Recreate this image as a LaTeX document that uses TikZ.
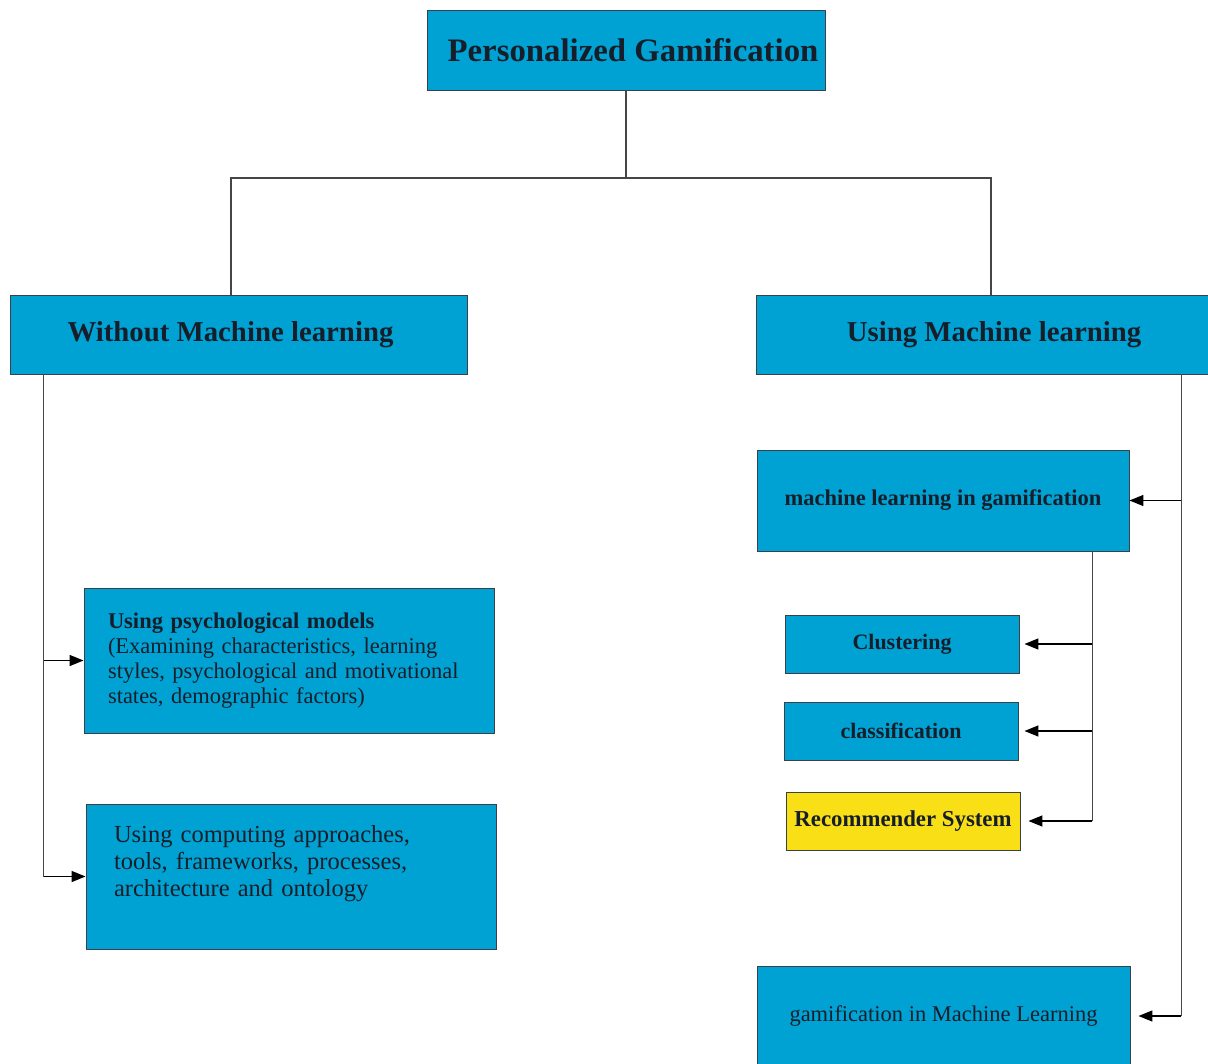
\documentclass[tikz,border=0pt]{standalone}
\usepackage{fontspec}
\setmainfont{Liberation Serif}
\usetikzlibrary{arrows.meta}

\definecolor{boxblue}{RGB}{0,162,212}
\definecolor{boxyellow}{RGB}{249,224,22}
\definecolor{inkdark}{RGB}{22,30,42}
\definecolor{wiregray}{RGB}{70,70,70}

\begin{document}
\begin{tikzpicture}[x=1pt,y=-1pt,
        box/.style={draw=inkdark!85,line width=0.9pt,fill=boxblue,text=inkdark,inner sep=0pt},
        wire/.style={draw=wiregray,line width=1.4pt},
        tip/.style={draw=black,line width=1.4pt,-{Triangle[length=14pt,width=11pt]}}]
        \useasboundingbox (0,0) rectangle (1208,1064);

        \node[box,minimum width=398,minimum height=80,font=\bfseries\fontsize{32.8}{36}\selectfont] (pg) at (626,50) {\hspace*{14pt}Personalized Gamification};
        \node[box,minimum width=457,minimum height=79,font=\bfseries\fontsize{28.8}{32}\selectfont] (without) at (238.5,334.5) {Without Machine learning\hspace*{16pt}};
        \node[box,minimum width=456,minimum height=79,font=\bfseries\fontsize{28.8}{32}\selectfont] (using) at (984,334.5) {\hspace*{20pt}Using Machine learning};

        % left branch
        \node[box,minimum width=410,minimum height=145,text width=362,align=left,font=\fontsize{22.5}{25}\selectfont] (psych) at (289,660.5)
            {\textbf{Using psychological models}\\(Examining characteristics, learning\\styles, psychological and motivational\\states, demographic factors)};
        \node[box,minimum width=410,minimum height=145,text width=354,align=left,font=\fontsize{24.5}{27}\selectfont] (comp) at (291,876.5)
            {Using computing approaches,\\tools, frameworks, processes,\\architecture and ontology\\[4pt]\mbox{}};

        % right branch
        \node[box,minimum width=372,minimum height=101,font=\bfseries\fontsize{22.5}{24}\selectfont] (mlgam) at (943,500.5) {machine learning in gamification};
        \node[box,minimum width=234,minimum height=58,font=\bfseries\fontsize{22}{24}\selectfont] (clust) at (902,644) {Clustering};
        \node[box,minimum width=234,minimum height=58,font=\bfseries\fontsize{22}{24}\selectfont] (classif) at (901,731) {classification};
        \node[box,fill=boxyellow,minimum width=234,minimum height=58,font=\bfseries\fontsize{22.8}{24}\selectfont] (recsys) at (903,821) {Recommender System};
        \node[box,minimum width=373,minimum height=100,font=\fontsize{22.5}{25}\selectfont] (gamml) at (943.5,1016) {gamification in Machine Learning};

        \coordinate (split) at (626,178);
        \draw[wire] (pg.south) -- (split);
        \draw[wire] ([xshift=-7.5]without.north) |- (split) -| ([xshift=7]using.north);

        \coordinate (lbus) at ([xshift=34]without.south west);
        \draw[wire] (lbus) -- (lbus |- comp.west);
        \draw[tip] (lbus |- psych.west) -- (psych.west);
        \draw[tip] (lbus |- comp.west) -- (comp.west);

        \coordinate (rbus) at ([xshift=-31]using.south east);
        \draw[wire] (rbus) -- (rbus |- gamml.east);
        \draw[tip] (rbus |- mlgam.east) -- (mlgam.east);
        \draw[tip,shorten >=8pt] (rbus |- gamml.east) -- (gamml.east);

        \coordinate (mbus) at ([xshift=-37]mlgam.south east);
        \draw[wire] (mbus) -- (mbus |- recsys.east);
        \draw[tip,shorten >=5pt] (mbus |- clust.east) -- (clust.east);
        \draw[tip,shorten >=6pt] (mbus |- classif.east) -- (classif.east);
        \draw[tip,shorten >=8pt] (mbus |- recsys.east) -- (recsys.east);
    \end{tikzpicture}
\end{document}
